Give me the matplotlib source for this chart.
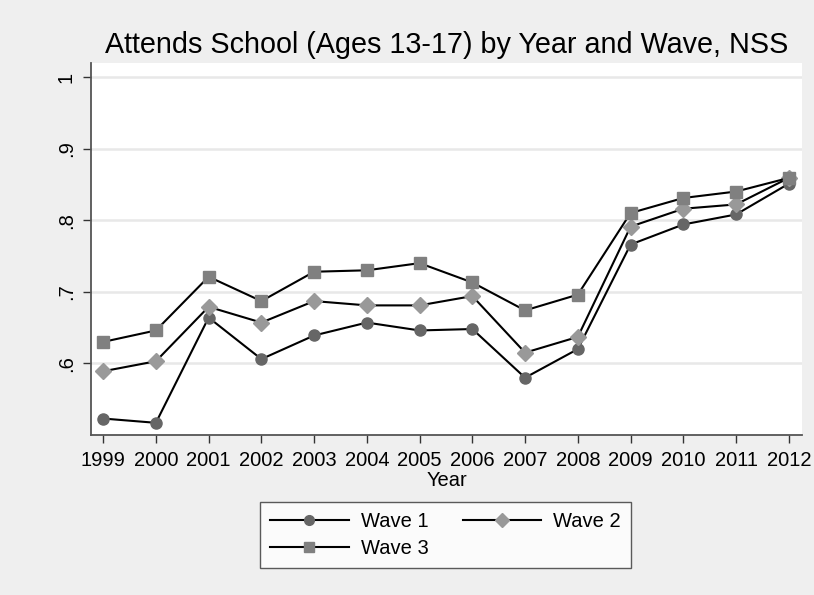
import numpy as np
import matplotlib.pyplot as plt

plt.rcParams['font.family'] = ['Liberation Sans', 'DejaVu Sans']

years = list(range(1999, 2013))
wave1 = [0.523, 0.517, 0.664, 0.606, 0.639, 0.657, 0.646, 0.648, 0.580, 0.620, 0.766, 0.794, 0.808, 0.851]
wave2 = [0.589, 0.603, 0.679, 0.657, 0.687, 0.681, 0.681, 0.694, 0.615, 0.637, 0.791, 0.816, 0.822, 0.859]
wave3 = [0.630, 0.646, 0.721, 0.687, 0.728, 0.730, 0.740, 0.713, 0.674, 0.696, 0.810, 0.831, 0.840, 0.859]

yticks = [0.6, 0.7, 0.8, 0.9, 1.0]
ytick_labels = ['.6', '.7', '.8', '.9', '1']

bg = '#efefef'
fig = plt.figure(figsize=(8.14, 5.95), dpi=100, facecolor=bg)
ax = fig.add_axes([91/814, 1-435/595, (802-91)/814, (435-63)/595])
ax.set_facecolor('white')

for v in yticks:
    ax.axhline(v, color='#e8e8e8', lw=1.8, zorder=0)

l1, = ax.plot(years, wave1, color='black', lw=1.5, marker='o', ms=8,
              mfc='#666666', mec='#666666', label='Wave 1')
l2, = ax.plot(years, wave2, color='black', lw=1.5, marker='D', ms=8,
              mfc='#999999', mec='#999999', label='Wave 2')
l3, = ax.plot(years, wave3, color='black', lw=1.5, marker='s', ms=8,
              mfc='#808080', mec='#808080', label='Wave 3')

ax.set_xlim(1998.77, 2012.25)
ax.set_ylim(0.5, 1.0195)
ax.set_xticks(years)
ax.set_xticklabels([str(y) for y in years], fontsize=14.5)
ax.set_yticks(yticks)
ax.set_yticklabels(ytick_labels, fontsize=14.5, rotation=90, va='center')
ax.tick_params(axis='both', direction='out', length=6, width=1, color='#333333')
ax.tick_params(axis='x', pad=5.5)
ax.tick_params(axis='y', pad=5)
for s in ['top', 'right']:
    ax.spines[s].set_visible(False)
for s in ['left', 'bottom']:
    ax.spines[s].set_color('#555555')
    ax.spines[s].set_linewidth(1.3)

ax.set_xlabel('Year', fontsize=14.5, labelpad=1)
ax.set_title('Attends School (Ages 13-17) by Year and Wave, NSS', fontsize=20.7, pad=7)

# row-wise order: Wave 1, Wave 2 on top, Wave 3 underneath
leg = fig.legend([l1, l3, l2], ['Wave 1', 'Wave 3', 'Wave 2'], ncol=2,
                 loc='upper left', bbox_to_anchor=(260/814, 1-502/595),
                 borderaxespad=0, frameon=True, fancybox=False,
                 edgecolor='#333333', facecolor='white',
                 fontsize=14.5, handlelength=3.9, handletextpad=0.6,
                 columnspacing=1.7, borderpad=0.5, labelspacing=0.38)
leg.get_frame().set_linewidth(1)
for h in leg.legend_handles:
    h.set_markersize(7)

fig.savefig('out.png', dpi=100, facecolor=bg)
